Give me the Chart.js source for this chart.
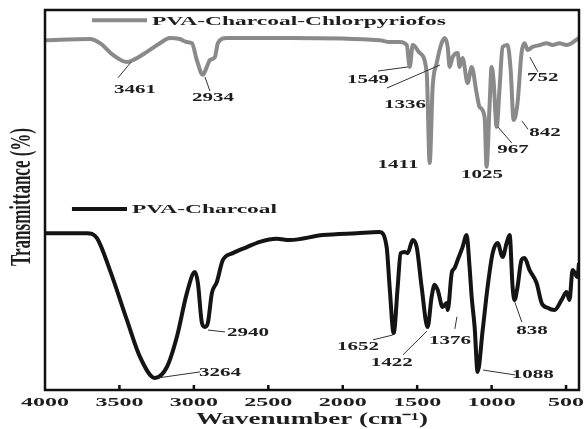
<!DOCTYPE html>
<html><head><meta charset="utf-8">
<script src="https://cdn.jsdelivr.net/npm/chart.js@4"></script>
<style>html,body{margin:0;padding:0;background:#fff;}#wrap{width:586px;height:429px;position:relative;}</style>
</head><body><div id="wrap"><canvas id="c"></canvas></div>
<script>
// ---------- data ----------
const seriesNames = ['PVA-Charcoal-Chlorpyriofos', 'PVA-Charcoal'];
const grayWavenumber = [4000,3698,3631,3544,3450,3409,3315,3228,3161,3094,3047,3013,2980,2940,2913,2893,2859,2839,2779,2356,1752,1685,1617,1570,1550,1530,1483,1436,1416,1396,1369,1336,1315,1295,1282,1262,1228,1215,1195,1161,1134,1101,1081,1047,1034,1013,1000,987,966,946,926,893,872,852,826,799,779,758,725,678,631,591,544,497,413];
const grayTransmittance = [92.8,93.1,92.0,88.9,87.0,87.5,89.7,92.0,93.4,93.1,92.3,92.0,87.5,83.6,85.7,87.5,88.3,92.0,93.4,93.4,92.8,92.3,92.3,91.5,85.7,91.5,89.4,84.1,60.2,80.4,86.7,92.0,93.4,91.0,85.7,88.3,89.4,85.7,88.1,81.4,85.7,78.8,75.1,72.4,59.2,76.1,85.7,82.2,69.8,80.4,91.0,91.5,84.9,71.6,76.1,89.4,92.0,90.2,91.0,91.5,92.0,91.5,92.0,91.5,93.4];
const blackWavenumber = [4000,3718,3651,3564,3450,3362,3262,3181,3114,3047,2993,2973,2946,2926,2906,2879,2846,2805,2738,2644,2557,2443,2356,2134,1906,1752,1705,1685,1658,1631,1611,1584,1564,1530,1503,1470,1430,1403,1383,1362,1329,1302,1295,1268,1248,1228,1195,1168,1148,1134,1114,1094,1060,1027,993,960,926,899,879,859,846,826,799,779,745,698,664,624,577,530,497,477,456,423,413];
const blackTransmittance = [41.6,41.6,40.3,31.8,18.6,8.8,3.2,6.1,14.1,25.7,31.3,28.4,17.8,16.7,17.8,25.7,28.6,34.5,36.3,37.9,39.3,40.1,39.8,41.1,41.6,41.9,37.9,27.3,15.1,27.3,36.3,36.6,36.3,39.8,37.9,27.3,16.7,24.7,27.9,26.5,22.0,23.1,21.2,31.0,32.4,34.5,37.9,41.1,32.6,24.7,16.7,4.8,15.9,27.3,36.3,39.0,35.3,39.0,41.1,27.3,23.9,27.3,34.5,35.0,31.8,28.4,23.1,21.8,21.2,23.9,26.0,23.9,31.8,30.0,33.7];
const xTickValues = [4000,3500,3000,2500,2000,1500,1000,500];
const grayPeakLabels = ['3461','2934','1549','1336','1411','1025','967','842','752'];
const blackPeakLabels = ['3264','2940','1652','1422','1376','1088','838'];
const xTitle = 'Wavenumber (cm\u207B\u00B9)';
const yTitle = 'Transmittance (%)';

// ---------- layout (data coordinates: [textX, textY, leader x1, y1, x2, y2]) ----------
const grayPeakPlacement = [
  [3396,79.6, 3510,82.8,3422,87.0],
  [2872,77.5, 2925,83.0,2892,79.3],
  [1831,82.2, 1764,84.6,1562,85.7],
  [1582,75.6, 1703,80.1,1347,86.2],
  [1629,59.7, null,null,null,null],
  [1065,57.0, null,null,null,null],
  [857,63.7, 958,69.8,864,65.5],
  [642,68.2, 797,71.4,756,69.2],
  [656,82.8, 743,88.3,689,84.4]
];
const blackPeakPlacement = [
  [2825,4.5, 3241,3.2,2959,4.8],
  [2637,15.1, 2905,15.9,2791,15.4],
  [1898,11.4, 1797,13.3,1663,14.6],
  [1670,7.2, 1596,9.3,1435,15.6],
  [1280,13.0, 1247,16.2,1233,19.4],
  [723,4.0, 1058,5.3,843,4.0],
  [729,15.6, 844,23.3,797,18.0]
];
const legendPlacement = [ {x1:3684, x2:3315, y:98.1}, {x1:3819, x2:3449, y:48.0} ];
const colors = ['#8a8a8a', '#141414'];
const TXT = '#1e1e1e';
const SERIF = '"Liberation Serif", "Times New Roman", serif';

function stretchText(ctx, txt, x, y, size, sx, align) {
  ctx.save();
  ctx.font = 'bold ' + size + 'px ' + SERIF;
  ctx.translate(x, y);
  ctx.scale(sx, 1);
  ctx.textAlign = align || 'center';
  ctx.textBaseline = 'middle';
  ctx.fillStyle = TXT;
  ctx.fillText(txt, 0, 0);
  ctx.restore();
}
function fitScale(ctx, txt, size, target) {
  ctx.save(); ctx.font = 'bold ' + size + 'px ' + SERIF;
  const w = ctx.measureText(txt).width; ctx.restore();
  return target / w;
}

const decor = {
  id: 'decor',
  afterDatasetsDraw(chart) {
    const ctx = chart.ctx, a = chart.chartArea;
    const xs = chart.scales.x, ys = chart.scales.y;
    // frame
    ctx.save();
    ctx.strokeStyle = '#111'; ctx.lineWidth = 2.5;
    ctx.strokeRect(a.left, a.top, a.right - a.left, a.bottom - a.top);
    // ticks
    ctx.lineWidth = 2.5;
    xTickValues.forEach(v => {
      const px = xs.getPixelForValue(v);
      if (v !== 4000) { ctx.beginPath(); ctx.moveTo(px, a.bottom); ctx.lineTo(px, a.bottom - 5); ctx.stroke(); }
      stretchText(ctx, String(v), px, a.bottom + 13, 13, 1.85, 'center');
    });
    ctx.restore();
    // axis titles
    const sxT = fitScale(ctx, xTitle, 16, 232);
    stretchText(ctx, xTitle, (a.left + a.right) / 2 + 0, 420, 16, sxT, 'center');
    ctx.save();
    ctx.translate(23, 197);
    ctx.rotate(-Math.PI / 2);
    ctx.scale(1, 1.7);
    ctx.font = 'bold 17px ' + SERIF;
    ctx.fillStyle = TXT; ctx.textAlign = 'center'; ctx.textBaseline = 'middle';
    ctx.fillText(yTitle, 0, 0);
    ctx.restore();
    // legends
    seriesNames.forEach((name, i) => {
      const L = legendPlacement[i];
      const y = ys.getPixelForValue(L.y);
      const x1 = xs.getPixelForValue(L.x1), x2 = xs.getPixelForValue(L.x2);
      ctx.save();
      ctx.strokeStyle = colors[i]; ctx.lineWidth = 4;
      ctx.beginPath(); ctx.moveTo(x1, y); ctx.lineTo(x2, y); ctx.stroke();
      ctx.restore();
      const target = i === 0 ? 294 : 145;
      const sx = fitScale(ctx, name, 13, target);
      stretchText(ctx, name, x2 + 5, y + 1, 13, sx, 'left');
    });
    // peak labels
    const drawPeaks = (labels, place) => {
      labels.forEach((lab, i) => {
        const p = place[i];
        if (p[2] !== null) {
          ctx.save();
          ctx.strokeStyle = '#333'; ctx.lineWidth = 1;
          ctx.beginPath();
          ctx.moveTo(xs.getPixelForValue(p[2]), ys.getPixelForValue(p[3]));
          ctx.lineTo(xs.getPixelForValue(p[4]), ys.getPixelForValue(p[5]));
          ctx.stroke(); ctx.restore();
        }
        stretchText(ctx, lab, xs.getPixelForValue(p[0]), ys.getPixelForValue(p[1]), 12, 1.75, 'center');
      });
    };
    drawPeaks(grayPeakLabels, grayPeakPlacement);
    drawPeaks(blackPeakLabels, blackPeakPlacement);
  }
};

const toPts = (xsArr, ysArr) => xsArr.map((x, i) => ({ x: x, y: ysArr[i] }));

new Chart(document.getElementById('c'), {
  type: 'line',
  data: {
    datasets: [
      { label: seriesNames[0], data: toPts(grayWavenumber, grayTransmittance), borderColor: colors[0], borderWidth: 4, pointRadius: 0, cubicInterpolationMode: 'monotone', fill: false },
      { label: seriesNames[1], data: toPts(blackWavenumber, blackTransmittance), borderColor: colors[1], borderWidth: 4, pointRadius: 0, cubicInterpolationMode: 'monotone', fill: false }
    ]
  },
  options: {
    responsive: true, maintainAspectRatio: false, animation: false, devicePixelRatio: 1,
    layout: { padding: { left: 45, top: 10, right: 7, bottom: 39 } },
    plugins: { legend: { display: false }, tooltip: { enabled: false } },
    scales: {
      x: { type: 'linear', reverse: true, min: 413, max: 4000, display: false },
      y: { type: 'linear', min: 0, max: 100.8, display: false }
    }
  },
  plugins: [decor]
});
</script>
</body></html>
